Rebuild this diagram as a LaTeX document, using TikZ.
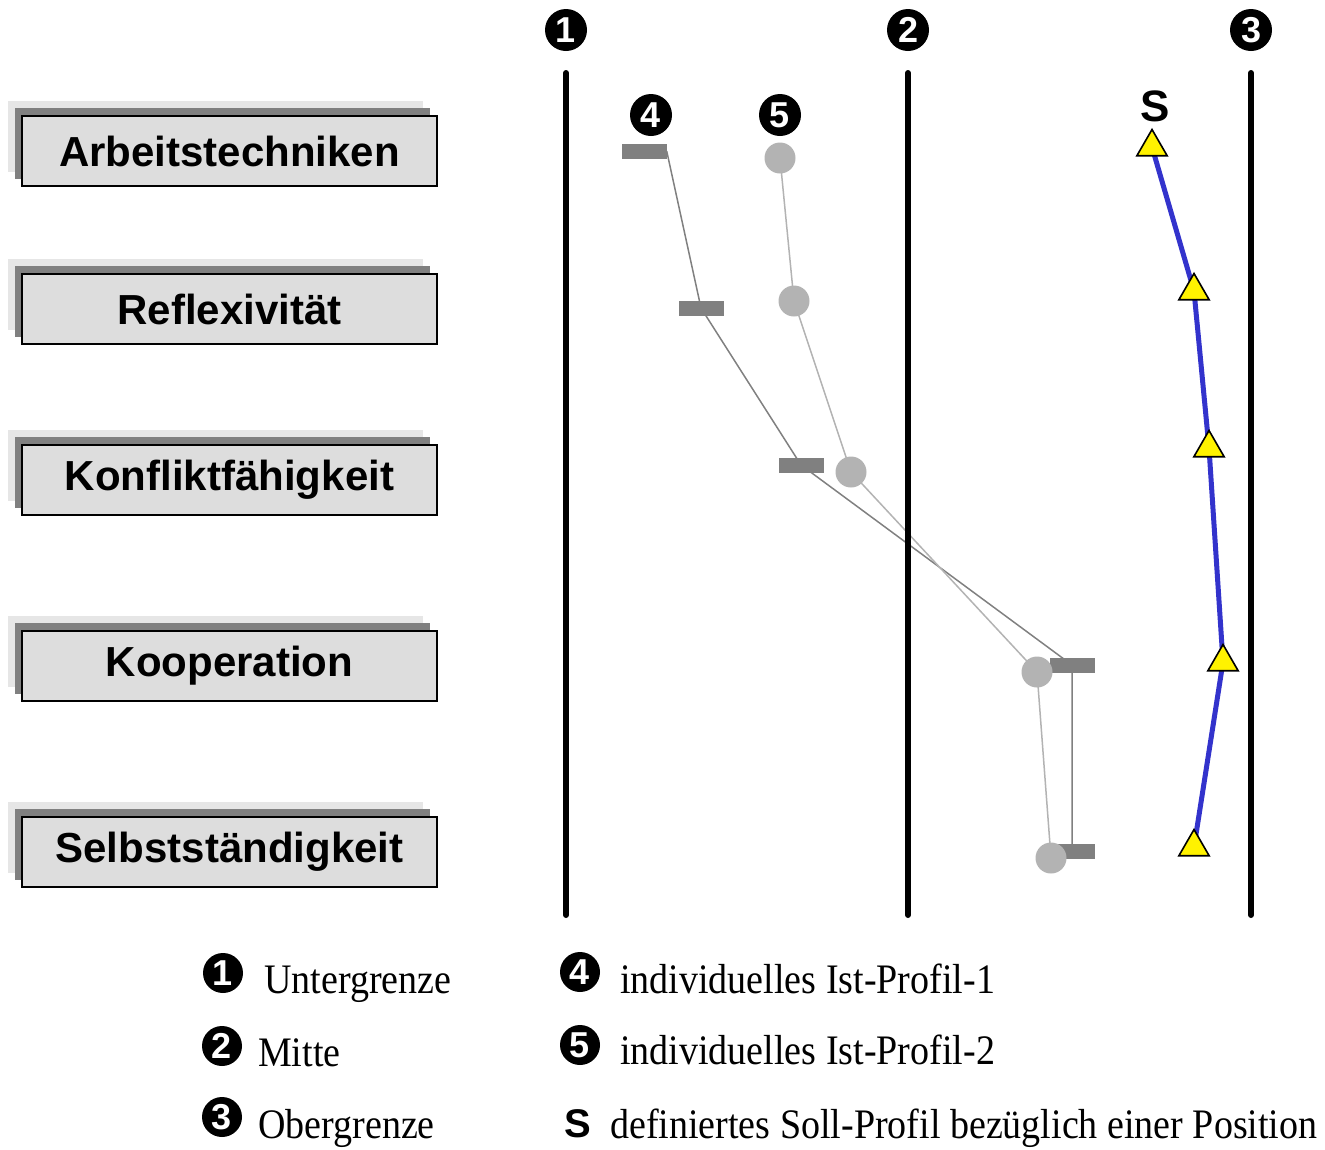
\documentclass[tikz,border=0pt]{standalone}
\usepackage{fontspec}
\setmainfont{Liberation Serif}
\newfontfamily\labelfont{Liberation Sans}
\newfontfamily\legendfont[FakeStretch=0.905]{Liberation Serif}
\usetikzlibrary{shapes.geometric,backgrounds}
\definecolor{boxgray}{HTML}{DDDDDD}
\definecolor{shadedark}{HTML}{808080}
\definecolor{shadelight}{HTML}{E6E6E6}
\definecolor{barcol}{HTML}{808080}
\definecolor{dotcol}{HTML}{B3B3B3}
\definecolor{sollblue}{HTML}{3333CC}
\tikzset{
  scalebar/.style={line width=6pt, line cap=round},
  numdot/.style={circle, fill=black, inner sep=0pt, minimum size=42pt,
    text=white, font=\labelfont\bfseries\fontsize{36}{36}\selectfont},
  legnum/.style={numdot, minimum size=40pt},
  competence/.style={draw=black, line width=2pt, fill=boxgray,
    minimum width=415pt, minimum height=70pt, inner sep=0pt,
    font=\labelfont\bfseries\fontsize{42}{42}\selectfont},
  istbar/.style={rectangle, fill=barcol, minimum width=45pt, minimum height=15pt, inner sep=0pt},
  istdot/.style={circle, fill=dotcol, minimum size=31pt, inner sep=0pt},
  sollmark/.style={regular polygon, regular polygon sides=3, draw=black, line width=1.6pt,
    fill=yellow, minimum size=35pt, inner sep=0pt},
  istline/.style={barcol, line width=1.5pt},
  istline2/.style={dotcol, line width=1.5pt},
  sollline/.style={sollblue, line width=5pt},
  legtext/.style={anchor=base west, inner sep=0pt, font=\legendfont\fontsize{42}{42}\selectfont},
  sletter/.style={inner sep=0pt, font=\labelfont\bfseries\fontsize{44}{44}\selectfont}
}
\begin{document}
\begin{tikzpicture}[x=1pt, y=-1pt]
\useasboundingbox (0,0) rectangle (1325,1149);

% scale lines with their numbers
\foreach \n/\x in {1/566, 2/908, 3/1251} {
  \coordinate (top\n) at (\x,73);
  \coordinate (bot\n) at (\x,915);
  \draw[scalebar] (top\n) -- (bot\n);
  \node[numdot] (num\n) at (\x,30) {\n};
}

% competence boxes with stacked shadows
\foreach \name/\y/\txt in {arb/151/Arbeitstechniken, ref/309/Reflexivität,
    kon/480/Konfliktfähigkeit, koo/666/Kooperation, sel/852/Selbstständigkeit} {
  \fill[shadelight] (8,\y-50) rectangle (423,\y+21);
  \fill[shadedark] (15,\y-43) rectangle (430,\y+28);
  \node[competence] (\name) at (229.5,\y) {\txt};
}

% profile 4: bars
\node[numdot] (num4) at (651,115) {4};
\node[istbar] (b1) at (644,151) {};
\node[istbar] (b2) at (701,308) {};
\node[istbar] (b3) at (801,465) {};
\node[istbar] (b4) at (1072,665) {};
\node[istbar] (b5) at (1072,851) {};

% profile 5: dots
\node[numdot] (num5) at (780,115) {5};
\node[istdot] (c1) at (780,158) {};
\node[istdot] (c2) at (794,301) {};
\node[istdot] (c3) at (851,472) {};
\node[istdot] (c4) at (1037,672) {};
\node[istdot] (c5) at (1051,858) {};

% target profile: triangles
\node[sollmark] (t1) at (1152,147) {};
\node[sollmark] (t2) at (1194,291) {};
\node[sollmark] (t3) at (1209,448) {};
\node[sollmark] (t4) at (1223,662) {};
\node[sollmark] (t5) at (1194,847) {};
\node[sletter] (s) at (1155,106) {S};

\begin{scope}[on background layer]
  \draw[istline] (b1.east) -- (b2.center) -- (b3.center) -- (b4.center) -- (b5.center);
  \draw[istline2] (c1.center) -- (c2.center) -- (c3.center) -- (c4.center) -- (c5.center);
  \draw[sollline] (t1.center) -- (t2.center) -- (t3.center) -- (t4.center) -- (t5.center);
\end{scope}

% legend
\node[legnum] (l1) at (223,973) {1};
\node[legnum] (l2) at (222,1046) {2};
\node[legnum] (l3) at (222,1117) {3};
\node[legnum] (l4) at (580,972) {4};
\node[legnum] (l5) at (580,1045) {5};
\node[sletter, font=\labelfont\bfseries\fontsize{40}{40}\selectfont] (ls) at (578,1124) {S};

\node[legtext] (lt1) at (264,993) {Untergrenze};
\node[legtext] (lt2) at (258,1066) {Mitte};
\node[legtext] (lt3) at (258,1138) {Obergrenze};
\node[legtext] (lt4) at (620,993) {individuelles Ist-Profil-1};
\node[legtext] (lt5) at (620,1064) {individuelles Ist-Profil-2};
\node[legtext] (lt6) at (610,1138) {definiertes Soll-Profil bezüglich einer Position};
\end{tikzpicture}
\end{document}
